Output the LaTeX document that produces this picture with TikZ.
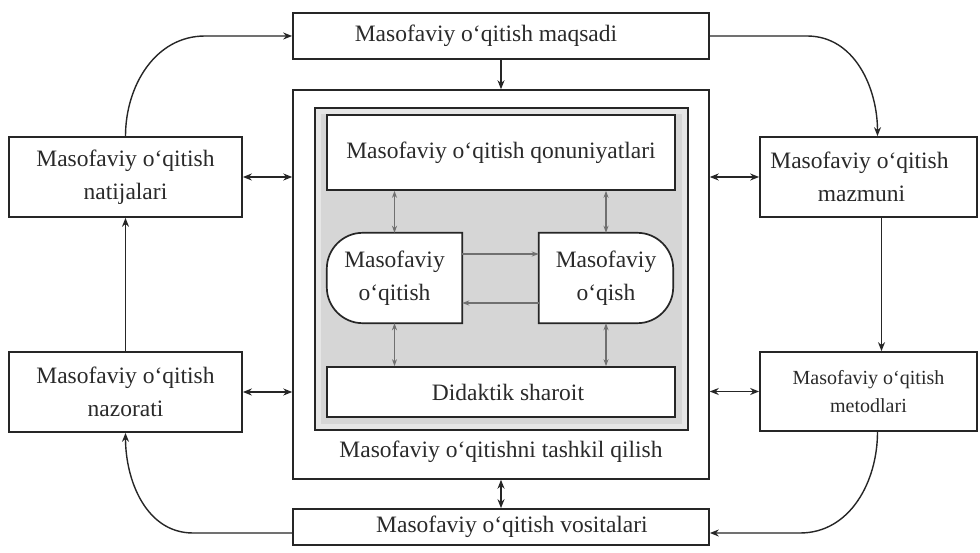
\documentclass[tikz,border=0pt]{standalone}
\usepackage{fontspec}
\setmainfont{Liberation Serif}
\usetikzlibrary{arrows.meta,calc}
\definecolor{ink}{HTML}{262626}
\definecolor{txt}{HTML}{2A2A2A}
\definecolor{panel}{HTML}{D6D6D6}
\definecolor{glow}{HTML}{E6E6E6}
\definecolor{soft}{HTML}{707070}
\pgfdeclarelayer{back}
\pgfdeclarelayer{mid}
\pgfsetlayers{back,mid,main}
\begin{document}
\begin{tikzpicture}[x=1pt,y=1pt,
  every node/.style={text=txt, font=\fontsize{23.5}{33}\selectfont, align=center, inner sep=0pt},
  box/.style={draw=ink, line width=1.7pt, fill=white},
  link/.style={draw=ink, line width=1.4pt, -{Stealth[length=9pt,width=7pt]}},
  both/.style={draw=ink, line width=1.6pt, {Stealth[length=9pt,width=7pt]}-{Stealth[length=9pt,width=7pt]}},
  inner/.style={draw=soft, line width=1.3pt, {Stealth[length=7pt,width=5pt]}-{Stealth[length=7pt,width=5pt]}},
  flow/.style={draw=soft, line width=1.5pt, -{Stealth[length=7pt,width=5pt]}},
]
\useasboundingbox (0,0) rectangle (980,552);

% frames of the organisation block
\begin{pgfonlayer}{back}
  \fill[white] (0,0) rectangle (980,552);
  \node[draw=ink, line width=1.5pt, fill=white, minimum width=416, minimum height=389] (org) at (501,267.5) {};
  \node[draw=ink, line width=2.2pt, fill=panel, minimum width=373, minimum height=322] (core) at (501.5,283) {};
  \draw[glow, line width=5pt] ([shift={(4.5,-4.5)}]core.north west) rectangle ([shift={(-4.5,4.5)}]core.south east);
\end{pgfonlayer}

% boxes
\node[box, minimum width=416, minimum height=46] (maq) at (501,516) {Masofaviy o‘qitish maqsadi\hspace*{30pt}};
\node[box, minimum width=348, minimum height=75] (qon) at (501,399.5) {Masofaviy o‘qitish qonuniyatlari};
\node[minimum width=135, minimum height=90] (lo) at (394.5,274) {Masofaviy\\o‘qitish};
\node[minimum width=134, minimum height=90] (ro) at (606,274) {Masofaviy\\o‘qish};
\node[box, minimum width=348, minimum height=50] (did) at (501,160) {\hspace*{14pt}Didaktik sharoit};
\node (tash) at (501,100.5) {Masofaviy o‘qitishni tashkil qilish};
\node[box, minimum width=416, minimum height=36] (vos) at (501,25) {\hspace*{22pt}Masofaviy o‘qitish vositalari};

\node[box, minimum width=233, minimum height=80] (nat) at (125.5,375) {Masofaviy o‘qitish\\natijalari};
\node[box, minimum width=233, minimum height=80] (naz) at (125.5,160) {Masofaviy o‘qitish\\nazorati};
\node[box, minimum width=217, minimum height=80] (maz) at (868.5,375) {Masofaviy o‘qitish\hspace*{18pt}\\mazmuni\hspace*{14pt}};
\node[box, minimum width=217, minimum height=79, font=\fontsize{20}{28}\selectfont] (met) at (868.5,160.5) {Masofaviy o‘qitish\\metodlari};

% half-rounded outlines of the two central actors
\begin{pgfonlayer}{mid}
  \draw[box] (lo.north east) -- ($(lo.north west)+(36,0)$)
    arc[start angle=90, end angle=180, radius=36]
    -- ($(lo.south west)+(0,36)$)
    arc[start angle=180, end angle=270, radius=36]
    -- (lo.south east) -- cycle;
  \draw[box] (ro.north west) -- ($(ro.north east)+(-36,0)$)
    arc[start angle=90, end angle=0, radius=36]
    -- ($(ro.south east)+(0,36)$)
    arc[start angle=0, end angle=-90, radius=36]
    -- (ro.south west) -- cycle;
\end{pgfonlayer}

% outer cycle
\coordinate (nwbend) at (205,516);
\coordinate (nebend) at (807,516);
\coordinate (sebend) at (800,19);
\coordinate (swbend) at (193,19);
\draw[link] (nat.north) to[out=90, in=180] (nwbend) -- (maq.west);
\draw[link] (maq.east) -- (nebend) to[out=0, in=90] ([xshift=9]maz.north);
\draw[link] ([xshift=13]maz.south) -- ([xshift=13]met.north);
\draw[link] ([xshift=9]met.south) to[out=-90, in=0] (sebend) -- ([yshift=-6]vos.east);
\draw[link] ([yshift=-6]vos.west) -- (swbend) to[out=180, in=-90] (naz.south);
\draw[link] (naz.north) -- (nat.south);

% links with the organisation block
\draw[link] (maq.south) -- (org.north);
\draw[both] (org.south) -- (vos.north);
\draw[both] (nat.east) -- (nat.east -| org.west);
\draw[both] (naz.east) -- (naz.east -| org.west);
\draw[both] (org.east |- maz.west) -- (maz.west);
\draw[both] (org.east |- met.west) -- (met.west);

% links inside the panel
\draw[inner] (lo.north |- qon.south) -- (lo.north);
\draw[inner] (ro.north |- qon.south) -- (ro.north);
\draw[inner] (lo.south) -- (lo.south |- did.north);
\draw[inner] (ro.south) -- (ro.south |- did.north);
\draw[flow] ([yshift=24]lo.east) -- ([yshift=24]lo.east -| ro.west);
\draw[flow] ([yshift=-25]ro.west) -- ([yshift=-25]ro.west -| lo.east);
\end{tikzpicture}
\end{document}
